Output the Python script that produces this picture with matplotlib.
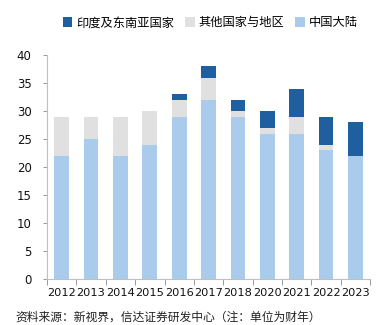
import numpy as np
import matplotlib.pyplot as plt

plt.rcParams['font.family'] = ['DejaVu Sans', 'Noto Sans CJK SC']

# Data by year (stack order: mainland China, other regions, India & SE Asia)
years = ['2012', '2013', '2014', '2015', '2016', '2017', '2018', '2020', '2021', '2022', '2023']
china = [22, 25, 22, 24, 29, 32, 29, 26, 26, 23, 22]
other = [7, 4, 7, 6, 3, 4, 1, 1, 3, 1, 0]
india_sea = [0, 0, 0, 0, 1, 2, 2, 3, 5, 5, 6]

c_china = '#a9cbec'
c_other = '#e0e0e0'
c_india = '#1f5e9f'

fig = plt.figure(figsize=(3.82, 3.25), dpi=100)
ax = fig.add_axes([0.123, 0.141, 0.846, 0.689])

x = np.arange(len(years))
w = 0.5
b1 = ax.bar(x, china, w, color=c_china, label='中国大陆')
b2 = ax.bar(x, other, w, bottom=china, color=c_other, label='其他国家与地区')
b3 = ax.bar(x, india_sea, w, bottom=np.array(china) + np.array(other),
            color=c_india, label='印度及东南亚国家')

ax.set_ylim(0, 40)
ax.set_xlim(-0.5, len(years) - 0.5)
ax.set_yticks(range(0, 41, 5))
ax.set_xticks(x)
ax.set_xticklabels(years)
ax.set_xticks(np.arange(-0.5, len(years), 1), minor=True)

for s in ['top', 'right']:
    ax.spines[s].set_visible(False)
for s in ['left', 'bottom']:
    ax.spines[s].set_color('#bfbfbf')
    ax.spines[s].set_linewidth(0.8)

ax.tick_params(axis='x', which='major', length=0, pad=6, labelsize=8.2, colors='#111111')
ax.tick_params(axis='x', which='minor', length=4, color='#999999', width=0.7)
ax.tick_params(axis='y', length=3, color='#999999', width=0.7, labelsize=8.5, pad=8, colors='#111111')

fig.legend(handles=[b3, b2, b1], loc='center', bbox_to_anchor=(0.55, 0.93), ncol=3,
           frameon=False, fontsize=8.8, handlelength=0.8, handleheight=0.8,
           handletextpad=0.3, columnspacing=0.9, borderaxespad=0)

fig.text(0.04, 0.004, '资料来源：新视界，信达证券研发中心（注：单位为财年）',
         fontsize=8.5, color='#222222', va='bottom', ha='left')

fig.savefig('out.png', dpi=100)
